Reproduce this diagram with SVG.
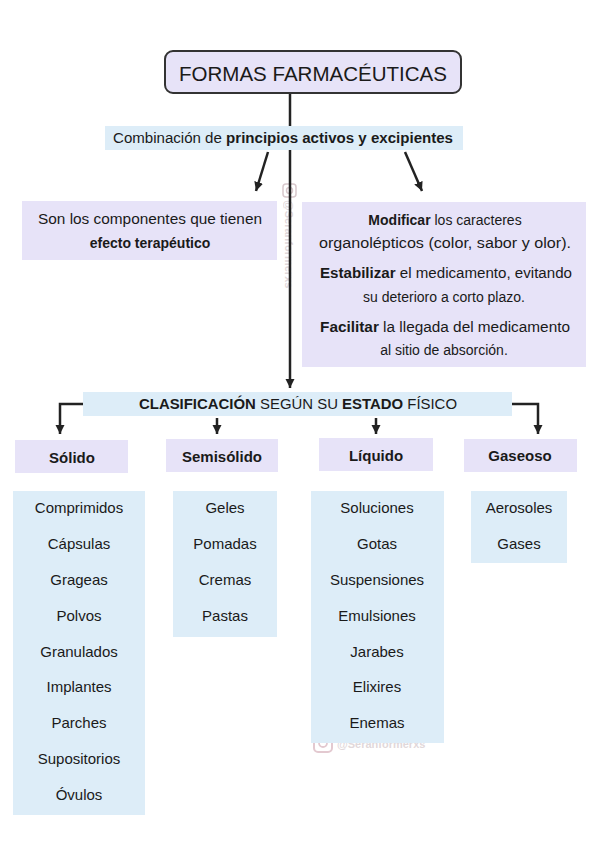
<svg xmlns="http://www.w3.org/2000/svg" width="599" height="848" viewBox="0 0 599 848">
<style>
  text { font-family: "Liberation Sans", "Open Sans", sans-serif; fill: #1a1a1a; }
  .lav { fill: #e7e3f8; }
  .blue { fill: #ddedf8; }
  .t { font-size: 14px; text-anchor: middle; }
  .h { font-size: 15px; font-weight: bold; text-anchor: middle; }
  .li { font-size: 15px; text-anchor: middle; }
  .b { font-weight: bold; }
  .line { stroke: #222; stroke-width: 2.5; fill: none; }
  .wm { font-size: 11px; font-weight: bold; fill: #c9b9bd; opacity: 0.55; }
</style>
<defs>
  <marker id="ah" markerUnits="userSpaceOnUse" markerWidth="10" markerHeight="10" refX="9" refY="5" orient="auto">
    <path d="M0,0.5 L9,5 L0,9.5 Z" fill="#222"/>
  </marker>
</defs>

<!-- watermarks -->
<g id="watermarks">
  <rect x="283" y="184" width="13" height="13" rx="3" fill="none" stroke="#d8c8cc" stroke-width="1.5"/>
  <circle cx="289.5" cy="190.5" r="3" fill="none" stroke="#d8c8cc" stroke-width="1.5"/>
  <text class="wm" transform="translate(285,200) rotate(90)">@Seranformerxs</text>
  <rect x="314" y="734" width="18" height="18" rx="4" fill="none" stroke="#e3c9d0" stroke-width="2"/>
  <circle cx="323" cy="743" r="4" fill="none" stroke="#e3c9d0" stroke-width="1.8"/>
  <text class="wm" x="337" y="748" font-size="13">@Seranformerxs</text>
</g>

<!-- connectors -->
<g id="connectors">
  <line class="line" x1="290" y1="93" x2="290" y2="126"/>
  <line class="line" x1="290" y1="150" x2="290" y2="388" marker-end="url(#ah)"/>
  <line class="line" x1="268" y1="152" x2="256" y2="191" marker-end="url(#ah)"/>
  <line class="line" x1="405" y1="152" x2="422" y2="191" marker-end="url(#ah)"/>
  <polyline class="line" points="83,404 60,404 60,434" marker-end="url(#ah)"/>
  <polyline class="line" points="512,404 538,404 538,434" marker-end="url(#ah)"/>
  <line class="line" x1="217" y1="418" x2="217" y2="434" marker-end="url(#ah)"/>
  <line class="line" x1="376" y1="418" x2="376" y2="434" marker-end="url(#ah)"/>
</g>

<g id="title">
  <rect x="165" y="51" width="296" height="42" rx="8" fill="#e7e3f8" stroke="#333" stroke-width="2"/>
  <text x="313" y="81" font-size="21" text-anchor="middle" textLength="268" lengthAdjust="spacingAndGlyphs">FORMAS FARMACÉUTICAS</text>
</g>

<g id="combinacion">
  <rect class="blue" x="105" y="126" width="358" height="24"/>
  <text x="283" y="143" class="t" textLength="340" lengthAdjust="spacingAndGlyphs">Combinación de <tspan class="b">principios activos y excipientes</tspan></text>
</g>

<g id="principios">
  <rect class="lav" x="22" y="201" width="255" height="59"/>
  <text x="150" y="224" class="t" textLength="224" lengthAdjust="spacingAndGlyphs">Son los componentes que tienen</text>
  <text x="150" y="248" class="t b">efecto terapéutico</text>
</g>

<g id="excipientes">
  <rect class="lav" x="302" y="202" width="284" height="165"/>
  <text x="445" y="225" class="t"><tspan class="b">Modificar</tspan> los caracteres</text>
  <text x="445" y="248" class="t" textLength="252" lengthAdjust="spacingAndGlyphs">organolépticos (color, sabor y olor).</text>
  <text x="446" y="278" class="t" textLength="252" lengthAdjust="spacingAndGlyphs"><tspan class="b">Estabilizar</tspan> el medicamento, evitando</text>
  <text x="444" y="302" class="t">su deterioro a corto plazo.</text>
  <text x="445" y="332" class="t" textLength="250" lengthAdjust="spacingAndGlyphs"><tspan class="b">Facilitar</tspan> la llegada del medicamento</text>
  <text x="444" y="355" class="t">al sitio de absorción.</text>
</g>

<g id="clasificacion">
  <rect class="blue" x="83" y="392" width="429" height="24"/>
  <text x="298" y="409" class="t" textLength="318" lengthAdjust="spacingAndGlyphs"><tspan class="b">CLASIFICACIÓN</tspan> SEGÚN SU <tspan class="b">ESTADO</tspan> FÍSICO</text>
</g>

<g id="solido">
  <rect class="lav" x="15" y="440" width="113" height="33"/>
  <text x="72" y="463" class="h">Sólido</text>
</g>
<g id="semisolido">
  <rect class="lav" x="166" y="439" width="112" height="33"/>
  <text x="222" y="462" class="h">Semisólido</text>
</g>
<g id="liquido">
  <rect class="lav" x="319" y="438" width="114" height="33"/>
  <text x="376" y="461" class="h">Líquido</text>
</g>
<g id="gaseoso">
  <rect class="lav" x="464" y="439" width="113" height="33"/>
  <text x="520" y="461" class="h">Gaseoso</text>
</g>

<g id="lista-solido">
  <rect class="blue" x="13" y="491" width="132" height="324"/>
  <text class="li" x="79" y="513">Comprimidos</text>
  <text class="li" x="79" y="549">Cápsulas</text>
  <text class="li" x="79" y="585">Grageas</text>
  <text class="li" x="79" y="621">Polvos</text>
  <text class="li" x="79" y="657">Granulados</text>
  <text class="li" x="79" y="692">Implantes</text>
  <text class="li" x="79" y="728">Parches</text>
  <text class="li" x="79" y="764">Supositorios</text>
  <text class="li" x="79" y="800">Óvulos</text>
</g>

<g id="lista-semisolido">
  <rect class="blue" x="173" y="491" width="104" height="146"/>
  <text class="li" x="225" y="513">Geles</text>
  <text class="li" x="225" y="549">Pomadas</text>
  <text class="li" x="225" y="585">Cremas</text>
  <text class="li" x="225" y="621">Pastas</text>
</g>

<g id="lista-liquido">
  <rect class="blue" x="311" y="491" width="133" height="252"/>
  <text class="li" x="377" y="513">Soluciones</text>
  <text class="li" x="377" y="549">Gotas</text>
  <text class="li" x="377" y="585">Suspensiones</text>
  <text class="li" x="377" y="621">Emulsiones</text>
  <text class="li" x="377" y="657">Jarabes</text>
  <text class="li" x="377" y="692">Elixires</text>
  <text class="li" x="377" y="728">Enemas</text>
</g>

<g id="lista-gaseoso">
  <rect class="blue" x="471" y="491" width="96" height="72"/>
  <text class="li" x="519" y="513">Aerosoles</text>
  <text class="li" x="519" y="549">Gases</text>
</g>
</svg>
